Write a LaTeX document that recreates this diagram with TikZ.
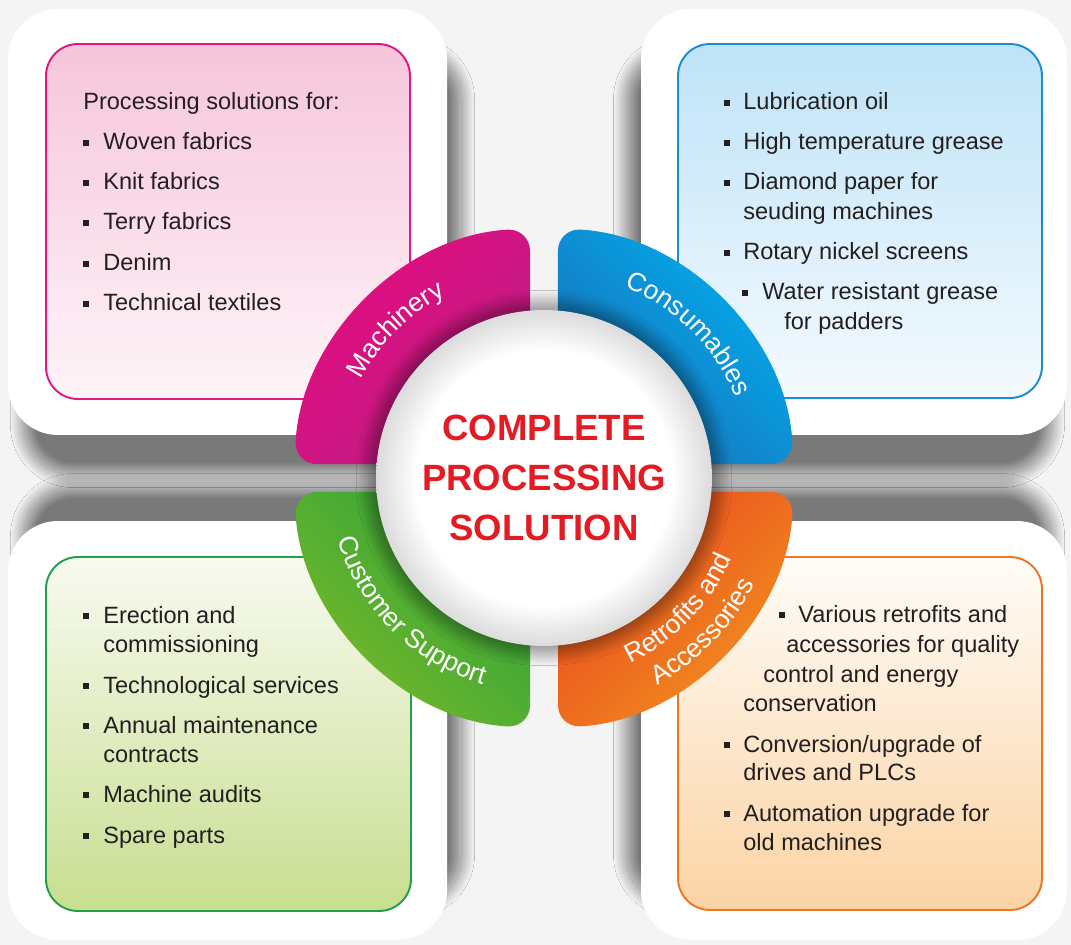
\documentclass[tikz,border=0pt]{standalone}
\usepackage{fontspec}
\setmainfont{Liberation Sans}
\usetikzlibrary{shadows.blur, decorations.text}

\definecolor{bg}{HTML}{F4F4F5}
\definecolor{ink}{HTML}{231F20}
\definecolor{title}{HTML}{E31B23}
\definecolor{machA}{HTML}{E50A7F}
\definecolor{machB}{HTML}{BA1F83}
\definecolor{consA}{HTML}{00AEEF}
\definecolor{consB}{HTML}{1C6FB7}
\definecolor{suppA}{HTML}{2BA23A}
\definecolor{suppB}{HTML}{7AB929}
\definecolor{retrA}{HTML}{E9471E}
\definecolor{retrB}{HTML}{F29220}
\definecolor{pinkline}{HTML}{E6157F}
\definecolor{pinktop}{HTML}{F6C5DB}
\definecolor{pinkbot}{HTML}{FEF4F8}
\definecolor{blueline}{HTML}{1B8BD3}
\definecolor{bluetop}{HTML}{BEE3F7}
\definecolor{bluebot}{HTML}{F4FAFE}
\definecolor{greenline}{HTML}{21A04A}
\definecolor{greentop}{HTML}{F8FAF0}
\definecolor{greenbot}{HTML}{C8DE90}
\definecolor{orangeline}{HTML}{EE7623}
\definecolor{orangetop}{HTML}{FFFCF8}
\definecolor{orangebot}{HTML}{FBD3A3}

\pgfdeclareradialshading{discshade}{\pgfpoint{0bp}{0bp}}{color(0bp)=(white); color(19bp)=(white); color(25bp)=(black!14); color(50bp)=(black!14)}
\newcommand{\arcfont}{\fontsize{15}{15}\selectfont}

\tikzset{
  panel/.style={fill=white, rounded corners=1cm, blur shadow={#1, shadow blur radius=0.25cm, shadow blur steps=40, shadow opacity=50}},
  listbox/.style n args={3}{draw=#1, top color=#2, bottom color=#3, line width=1.1pt, rounded corners=0.64cm},
}

\begin{document}
\begin{tikzpicture}[x=0.02cm, y=0.02cm,
  txt/.style={anchor=base west, inner sep=0pt, text=ink, font=\fontsize{13.4}{16}\selectfont},
  bul/.style={fill=ink, inner sep=0pt, minimum size=0.12cm},
  seg/.style={rounded corners=0.45cm},
  arclabel/.style={decorate, decoration={text along path, text align=center, text color=white, text={|\arcfont|#1}}},
  disc/.style={circle, minimum size=6.72cm, shading=discshade, align=center, text=title,
    font=\bfseries\fontsize{20.8}{28.45}\selectfont,
    blur shadow={shadow xshift=0pt, shadow yshift=0pt, shadow blur radius=0.25cm, shadow blur steps=30, shadow opacity=45, shadow scale=1.04}}]
	\useasboundingbox (0,0) rectangle (1071,-945);
	\fill[bg] (0,0) rectangle (1071,-945);

	% white panels
	\path[panel={shadow xshift=0.3cm, shadow yshift=-0.8cm}] (8,-9) rectangle (447,-435);
	\path[panel={shadow xshift=-0.3cm, shadow yshift=-0.8cm}] (641,-9) rectangle (1067,-435);
	\path[panel={shadow xshift=0.3cm, shadow yshift=0.7cm}] (8,-521) rectangle (447,-940);
	\path[panel={shadow xshift=-0.3cm, shadow yshift=0.7cm}] (641,-521) rectangle (1067,-940);

	% coloured boxes
	\draw[listbox={pinkline}{pinktop}{pinkbot}] (46,-44) rectangle (410,-399);
	\draw[listbox={blueline}{bluetop}{bluebot}] (678,-44) rectangle (1042,-398);
	\draw[listbox={greenline}{greentop}{greenbot}] (46,-557) rectangle (411,-911);
	\draw[listbox={orangeline}{orangetop}{orangebot}] (678,-557) rectangle (1042,-910);

	% machinery list
	\node[txt] (mach0) at (83,-110) {Processing solutions for:};
	\foreach \b/\t [count=\i] in {150/Woven fabrics, 190/Knit fabrics, 230/Terry fabrics, 271/Denim, 311/Technical textiles}{
		\node[txt] (mach\i) at (103,-\b) {\t};
		\node[bul] (machb\i) at (86,-\b+7) {};
	}

	% consumables list
	\foreach \b/\t [count=\i] in {110/Lubrication oil, 150/High temperature grease, 190/Diamond paper for, 260/Rotary nickel screens}{
		\node[txt] (cons\i) at (743,-\b) {\t};
		\node[bul] (consb\i) at (727,-\b+7) {};
	}
	\node[txt] (cons5) at (743,-220) {seuding machines};
	\node[txt] (cons6) at (762,-300) {Water resistant grease};
	\node[bul] (consb6) at (745,-293) {};
	\node[txt] (cons7) at (784,-330) {for padders};

	% customer support list
	\foreach \b/\t [count=\i] in {623/Erection and, 693/Technological services, 733/Annual maintenance, 802/Machine audits, 843/Spare parts}{
		\node[txt] (supp\i) at (103,-\b) {\t};
		\node[bul] (suppb\i) at (86,-\b+7) {};
	}
	\node[txt] (supp6) at (103,-652) {commissioning};
	\node[txt] (supp7) at (103,-762) {contracts};

	% retrofits list
	\node[bul] (retrb1) at (782,-615) {};
	\node[txt] (retr1) at (798,-622) {Various retrofits and};
	\node[txt] (retr2) at (786,-652) {accessories for quality};
	\node[txt] (retr3) at (763,-682) {control and energy};
	\node[txt] (retr4) at (743,-711) {conservation};
	\node[bul] (retrb5) at (727,-745) {};
	\node[txt] (retr5) at (743,-752) {Conversion/upgrade of};
	\node[txt] (retr6) at (743,-780) {drives and PLCs};
	\node[bul] (retrb7) at (727,-814) {};
	\node[txt] (retr7) at (743,-821) {Automation upgrade for};
	\node[txt] (retr8) at (743,-850) {old machines};

	% ring segments
	\begin{scope}[shift={(544,-478)}]
		\shade[seg, top color=machA, bottom color=machB, shading angle=45]
			(-14,14) -- (-14,249.6) arc[start angle=93.2, end angle=176.8, radius=250] -- cycle;
		\shade[seg, top color=consA, bottom color=consB, shading angle=-45]
			(14,14) -- (249.6,14) arc[start angle=3.2, end angle=86.8, radius=250] -- cycle;
		\shade[seg, top color=suppA, bottom color=suppB, shading angle=-45]
			(-14,-14) -- (-249.6,-14) arc[start angle=183.2, end angle=266.8, radius=250] -- cycle;
		\shade[seg, top color=retrA, bottom color=retrB, shading angle=45]
			(14,-14) -- (14,-249.6) arc[start angle=273.2, end angle=356.8, radius=250] -- cycle;

		\path[arclabel={Machinery}] (165:208) arc[start angle=165, end angle=105, radius=208];
		\path[arclabel={Consumables}] (80:208) arc[start angle=80, end angle=10, radius=208];
		\path[arclabel={Customer Support}] (185:215) arc[start angle=185, end angle=265, radius=215];
		\path[arclabel={Retrofits and}] (-84:204) arc[start angle=-84, end angle=-4, radius=204];
		\path[arclabel={Accessories}] (-84:236) arc[start angle=-84, end angle=-4, radius=236];
	\end{scope}

	% centre disc
	\node[disc] (core) at (544,-478) {COMPLETE\\PROCESSING\\SOLUTION};
\end{tikzpicture}
\end{document}
